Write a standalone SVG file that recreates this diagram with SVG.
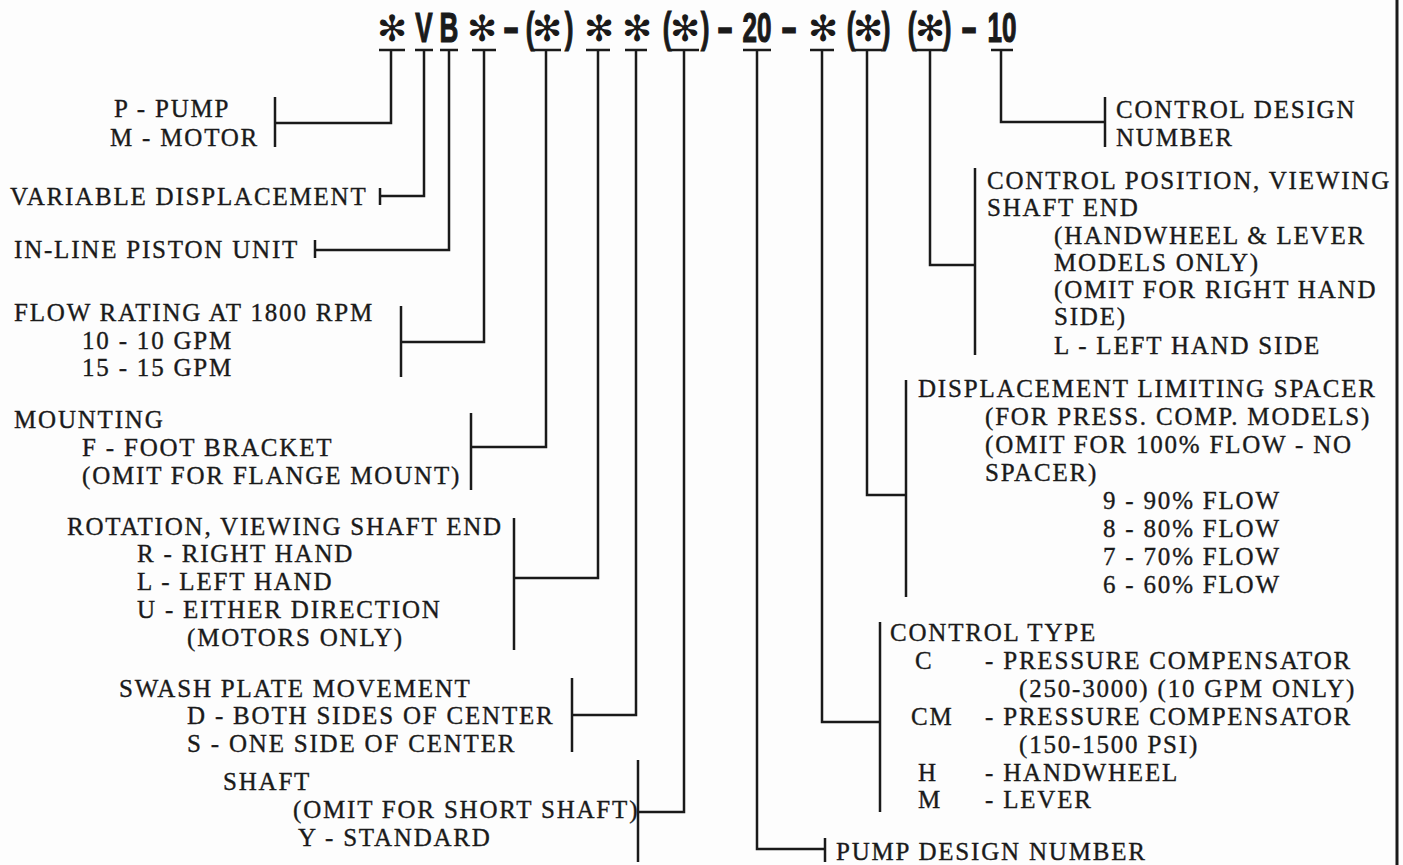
<svg xmlns="http://www.w3.org/2000/svg" width="1403" height="865" viewBox="0 0 1403 865">
<style>
.t{font-family:"Liberation Serif","Times New Roman",serif;font-size:25px;letter-spacing:1.8px;fill:#1a1a1a;stroke:#1a1a1a;stroke-width:0.35}
.h{font-family:"Liberation Sans",Arial,sans-serif;font-weight:bold;font-size:42px;fill:#1a1a1a;stroke:#1a1a1a;stroke-width:1.2;text-anchor:middle}
.a{font-family:"DejaVu Sans",sans-serif;font-weight:bold;font-size:36px;fill:#1a1a1a;text-anchor:middle}
.l{fill:none;stroke:#1a1a1a;stroke-width:2.5}
</style>
<rect width="1403" height="865" fill="#fdfdfd"/>
<g id="code">
<text class="a" x="392" y="41">✻</text>
<text class="h" transform="translate(424,42) scale(0.62,1)">V</text>
<text class="h" transform="translate(449,42) scale(0.62,1)">B</text>
<text class="a" x="482" y="41">✻</text>
<text class="h" transform="translate(511,42) scale(1.15,1)">-</text>
<text class="h" transform="translate(530,42) scale(0.62,1)">(</text>
<text class="a" x="547" y="41">✻</text>
<text class="h" transform="translate(569,42) scale(0.62,1)">)</text>
<text class="a" x="599" y="41">✻</text>
<text class="a" x="637" y="41">✻</text>
<text class="h" transform="translate(667,42) scale(0.62,1)">(</text>
<text class="a" x="685" y="41">✻</text>
<text class="h" transform="translate(705,42) scale(0.62,1)">)</text>
<text class="h" transform="translate(725,42) scale(1.15,1)">-</text>
<text class="h" transform="translate(757,42) scale(0.62,1)">20</text>
<text class="h" transform="translate(789,42) scale(1.15,1)">-</text>
<text class="a" x="823" y="41">✻</text>
<text class="h" transform="translate(851,42) scale(0.62,1)">(</text>
<text class="a" x="868" y="41">✻</text>
<text class="h" transform="translate(886,42) scale(0.62,1)">)</text>
<text class="h" transform="translate(912,42) scale(0.62,1)">(</text>
<text class="a" x="930" y="41">✻</text>
<text class="h" transform="translate(947,42) scale(0.62,1)">)</text>
<text class="h" transform="translate(969,42) scale(1.15,1)">-</text>
<text class="h" transform="translate(1002,42) scale(0.62,1)">10</text>
</g>
<g id="connectors" class="l">
<path d="M379,50H405M391,50V123H275"/>
<path d="M415,50H433M424,50V196H380"/>
<path d="M440,50H458M449,50V250H315"/>
<path d="M472,50H496M484,50V342H401"/>
<path d="M531,50H561M546,50V447H471"/>
<path d="M586,50H610M598,50V578H514"/>
<path d="M625,50H647M636,50V715H572"/>
<path d="M669,50H699M684,50V812H638"/>
<path d="M743,50H771M757,50V849H825"/>
<path d="M810,50H834M822,50V722H880"/>
<path d="M852,50H882M867,50V495H906"/>
<path d="M915,50H945M930,50V265H975"/>
<path d="M991,50H1013M1001,50V122H1105"/>
</g>
<path d="M1397,0V865" stroke="#1a1a1a" stroke-width="3"/>
<g id="n-pm"><path class="l" d="M275,97V147"/>
<text class="t" x="114" y="117">P - PUMP</text>
<text class="t" x="110" y="146">M - MOTOR</text></g>
<g id="n-var"><path class="l" d="M380,188V205"/>
<text class="t" x="10" y="205">VARIABLE DISPLACEMENT</text></g>
<g id="n-inline"><path class="l" d="M315,240V258"/>
<text class="t" x="14" y="258">IN-LINE PISTON UNIT</text></g>
<g id="n-flow"><path class="l" d="M401,306V377"/>
<text class="t" x="14" y="321">FLOW RATING AT 1800 RPM</text>
<text class="t" x="82" y="349">10 - 10 GPM</text>
<text class="t" x="82" y="376">15 - 15 GPM</text></g>
<g id="n-mount"><path class="l" d="M471,413V490"/>
<text class="t" x="14" y="428">MOUNTING</text>
<text class="t" x="82" y="456">F - FOOT BRACKET</text>
<text class="t" x="82" y="484">(OMIT FOR FLANGE MOUNT)</text></g>
<g id="n-rot"><path class="l" d="M514,518V650"/>
<text class="t" x="67" y="535">ROTATION, VIEWING SHAFT END</text>
<text class="t" x="137" y="562">R - RIGHT HAND</text>
<text class="t" x="137" y="590">L - LEFT HAND</text>
<text class="t" x="137" y="618">U - EITHER DIRECTION</text>
<text class="t" x="187" y="646">(MOTORS ONLY)</text></g>
<g id="n-swash"><path class="l" d="M572,678V752"/>
<text class="t" x="119" y="697">SWASH PLATE MOVEMENT</text>
<text class="t" x="187" y="724">D - BOTH SIDES OF CENTER</text>
<text class="t" x="187" y="752">S - ONE SIDE OF CENTER</text></g>
<g id="n-shaft"><path class="l" d="M638,760V862"/>
<text class="t" x="223" y="790">SHAFT</text>
<text class="t" x="293" y="818">(OMIT FOR SHORT SHAFT)</text>
<text class="t" x="298" y="846">Y - STANDARD</text></g>
<g id="n-pumpdesign"><path class="l" d="M825,838V862"/>
<text class="t" x="836" y="860">PUMP DESIGN NUMBER</text></g>
<g id="n-ctype"><path class="l" d="M880,622V812"/>
<text class="t" x="890" y="641">CONTROL TYPE</text>
<text class="t" x="915" y="669">C</text><text class="t" x="985" y="669">- PRESSURE COMPENSATOR</text>
<text class="t" x="1019" y="697">(250-3000) (10 GPM ONLY)</text>
<text class="t" x="911" y="725">CM</text><text class="t" x="985" y="725">- PRESSURE COMPENSATOR</text>
<text class="t" x="1019" y="753">(150-1500 PSI)</text>
<text class="t" x="918" y="781">H</text><text class="t" x="985" y="781">- HANDWHEEL</text>
<text class="t" x="918" y="808">M</text><text class="t" x="985" y="808">- LEVER</text></g>
<g id="n-disp"><path class="l" d="M906,380V597"/>
<text class="t" x="918" y="397">DISPLACEMENT LIMITING SPACER</text>
<text class="t" x="985" y="425">(FOR PRESS. COMP. MODELS)</text>
<text class="t" x="985" y="453">(OMIT FOR 100% FLOW - NO</text>
<text class="t" x="985" y="481">SPACER)</text>
<text class="t" x="1103" y="509">9 - 90% FLOW</text>
<text class="t" x="1103" y="537">8 - 80% FLOW</text>
<text class="t" x="1103" y="565">7 - 70% FLOW</text>
<text class="t" x="1103" y="593">6 - 60% FLOW</text></g>
<g id="n-cpos"><path class="l" d="M975,168V355"/>
<text class="t" x="987" y="189">CONTROL POSITION, VIEWING</text>
<text class="t" x="987" y="216">SHAFT END</text>
<text class="t" x="1054" y="244">(HANDWHEEL &amp; LEVER</text>
<text class="t" x="1054" y="271">MODELS ONLY)</text>
<text class="t" x="1054" y="298">(OMIT FOR RIGHT HAND</text>
<text class="t" x="1054" y="325">SIDE)</text>
<text class="t" x="1054" y="354">L - LEFT HAND SIDE</text></g>
<g id="n-cdesign"><path class="l" d="M1105,97V147"/>
<text class="t" x="1116" y="118">CONTROL DESIGN</text>
<text class="t" x="1116" y="146">NUMBER</text></g>
</svg>
